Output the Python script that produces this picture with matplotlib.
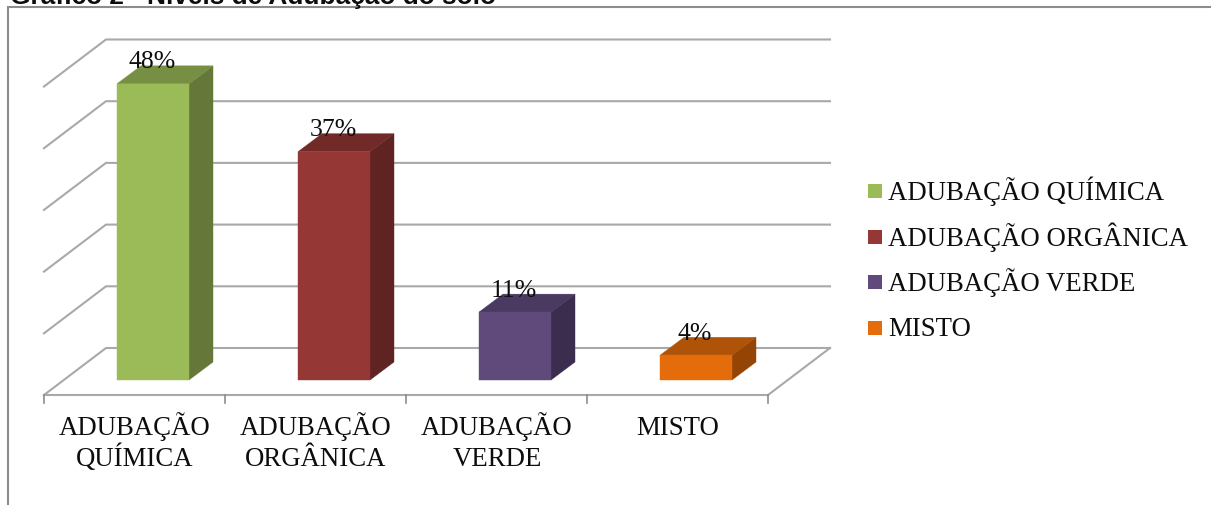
import matplotlib
matplotlib.use("Agg")
import matplotlib.pyplot as plt
from matplotlib.patches import Polygon, Rectangle

categories = ["ADUBAÇÃO\nQUÍMICA", "ADUBAÇÃO\nORGÂNICA", "ADUBAÇÃO\nVERDE", "MISTO"]
legend_names = ["ADUBAÇÃO QUÍMICA", "ADUBAÇÃO ORGÂNICA", "ADUBAÇÃO VERDE", "MISTO"]
values = [48, 37, 11, 4]
grid_values = [0, 10, 20, 30, 40, 50]
title = "Gráfico 2 - Níveis de Adubação do solo"

front_colors = ["#9BBB59", "#953735", "#604A7B", "#E46C0A"]
side_colors = ["#66773A", "#5F2322", "#3B2D4D", "#944506"]
top_colors = ["#778F43", "#722A28", "#4A3960", "#AE5308"]

W, H = 1211, 506
px_x = 181.0   # pixels for one category
px_y = 6.17    # pixels for one percent
x0, y0 = 44, 396  # front left corner of the floor

plt.rcParams["font.family"] = "Liberation Serif"
fig = plt.figure(figsize=(W / 100, H / 100), dpi=100)
ax = fig.add_axes([0, 0, 1, 1])
ax.set_xlim(-x0 / px_x, (W - x0) / px_x)
ax.set_ylim((y0 - H) / px_y, y0 / px_y)
ax.axis("off")


# helpers to go from picture pixels to data units
def X(px):
    return (px - x0) / px_x


def Y(py):
    return (y0 - py) / px_y


grey = "#A9A9A9"
text_color = "#0D0D0D"
n = len(categories)

# depth of the floor and of the bars, in data units
dx, dy = 62 / px_x, 47 / px_y
bx, by = 24 / px_x, 18 / px_y
base = 15 / px_y
bar_w = 72 / px_x
bar_off = 73 / px_x

# walls and floor
for g in grid_values:
    ax.plot([0, dx, n + dx], [g, g + dy, g + dy], color=grey, lw=1.5, solid_joinstyle="miter")
ax.plot([0, n, n + dx], [0, 0, dy], color=grey, lw=1.5, solid_joinstyle="miter")
for i in range(n + 1):
    ax.plot([i, i], [0, -8 / px_y], color="#8C8C8C", lw=1.2)

# bars
for i, v in enumerate(values):
    left = i + bar_off
    top = base + v
    ax.bar(left, v, width=bar_w, bottom=base, align="edge", color=front_colors[i],
           edgecolor=front_colors[i], lw=0.3, zorder=3.2)
    ax.add_patch(Polygon([(left + bar_w, base), (left + bar_w + bx, base + by),
                          (left + bar_w + bx, top + by), (left + bar_w, top)],
                         fc=side_colors[i], ec=side_colors[i], lw=0.3, zorder=3))
    ax.add_patch(Polygon([(left, top), (left + bx, top + by),
                          (left + bar_w + bx, top + by), (left + bar_w, top)],
                         fc=top_colors[i], ec=top_colors[i], lw=0.3, zorder=3))
    ax.text(left + bar_w / 2 - 1 / px_x, top + 16.5 / px_y, "%d%%" % v, ha="center", va="baseline",
            fontsize=18.5, color=text_color, zorder=4)

# category labels, one text per line so the spacing stays even
for i, c in enumerate(categories):
    for j, line in enumerate(c.split("\n")):
        ax.text(i + 0.503, Y(435 + 31 * j), line, ha="center", va="baseline", fontsize=19.3,
                color=text_color)

# outer frame, cut by the picture edges
ax.plot([X(8), X(8), X(W)], [Y(H), Y(8), Y(8)], color="#8C8C8C", lw=1.5, solid_joinstyle="miter")

# title is cut by the top of the picture, same as the source
ax.text(X(10), Y(4), title, ha="left", va="baseline", fontsize=18.9,
        fontweight="bold", family="Liberation Sans", color=text_color)

# legend
for i, name in enumerate(legend_names):
    ax.add_patch(Rectangle((X(868), Y(199 + 45.5 * i)), 14 / px_x, 14 / px_y,
                           fc=front_colors[i], lw=0))
    ax.text(X(888), Y(200 + 45.5 * i), name, ha="left", va="baseline", fontsize=19.3,
            color=text_color)

fig.savefig("out.png", dpi=100)
